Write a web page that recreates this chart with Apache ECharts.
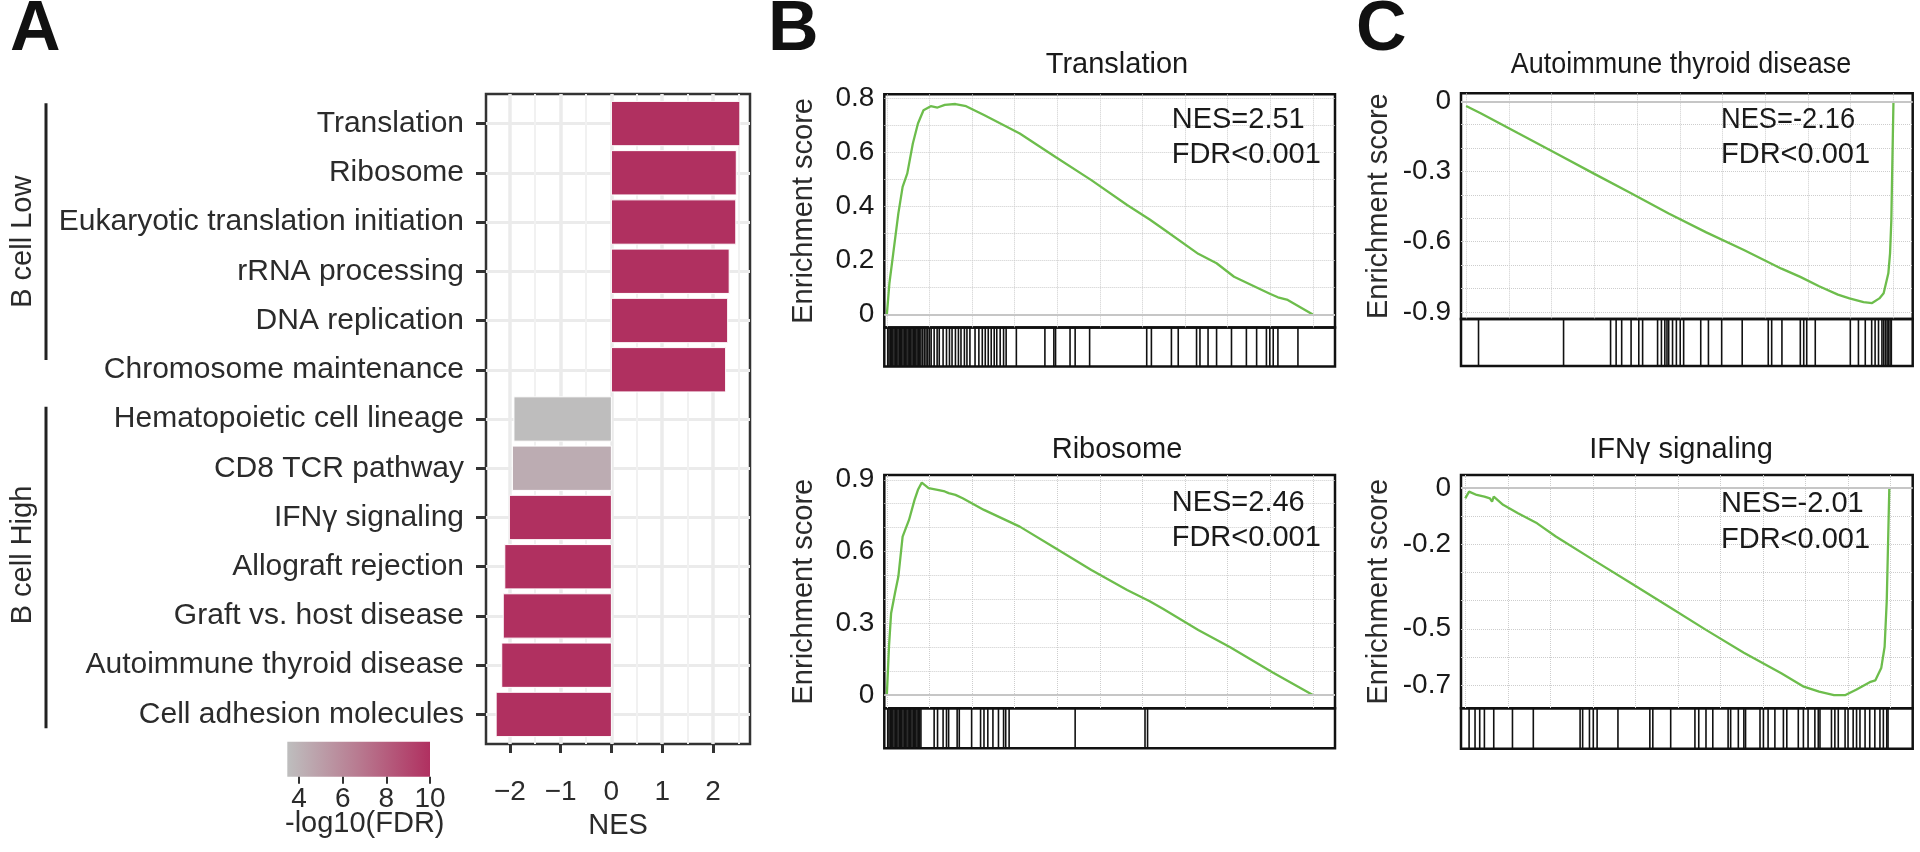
<!DOCTYPE html>
<html>
<head>
<meta charset="utf-8">
<script src="https://cdn.jsdelivr.net/npm/echarts@6.0.0/dist/echarts.min.js"></script>
<style>html,body{margin:0;padding:0;background:#fff}#c{width:1920px;height:852px}</style>
</head>
<body>
<div id="c"></div>
<script>
// ================= DATA =================
// Panel A
const pathways = ['Translation','Ribosome','Eukaryotic translation initiation','rRNA processing','DNA replication','Chromosome maintenance','Hematopoietic cell lineage','CD8 TCR pathway','IFNγ signaling','Allograft rejection','Graft vs. host disease','Autoimmune thyroid disease','Cell adhesion molecules'];
const nes = [2.53, 2.46, 2.45, 2.32, 2.29, 2.25, -1.92, -1.95, -2.01, -2.10, -2.13, -2.16, -2.27];
const negLog10FDR = [10, 10, 10, 10, 10, 10, 3.5, 4.3, 10, 10, 10, 10, 10];
const nesTicks = [-2, -1, 0, 1, 2];
const nesMinorTicks = [-1.5, -0.5, 0.5, 1.5, 2.5];
const fdrTicks = [4, 6, 8, 10];
const fdrRange = [3.46, 10];
const groupNames = ['B cell Low', 'B cell High'];

// Panels B & C (x = normalized position in ranked gene list)
const gseaTitles = ['Translation', 'Ribosome', 'Autoimmune thyroid disease', 'IFNγ signaling'];
const nesLabels = ['NES=2.51', 'NES=2.46', 'NES=-2.16', 'NES=-2.01'];
const fdrLabels = ['FDR<0.001', 'FDR<0.001', 'FDR<0.001', 'FDR<0.001'];
const rankGrid = [0, 0.1, 0.2, 0.3, 0.4, 0.5, 0.6, 0.7, 0.8, 0.9, 1.0];

const esTranslation = [[0,0],[0.006,0.116],[0.015,0.227],[0.027,0.375],[0.037,0.473],[0.048,0.523],[0.061,0.634],[0.073,0.708],[0.086,0.757],[0.103,0.772],[0.119,0.767],[0.136,0.777],[0.161,0.780],[0.186,0.772],[0.228,0.739],[0.312,0.671],[0.396,0.584],[0.48,0.498],[0.564,0.406],[0.617,0.352],[0.648,0.318],[0.731,0.225],[0.774,0.19],[0.815,0.14],[0.899,0.077],[0.918,0.064],[0.941,0.054],[1,0]];
const esRibosome = [[0,0],[0.005,0.202],[0.01,0.342],[0.019,0.425],[0.027,0.495],[0.037,0.662],[0.052,0.732],[0.065,0.816],[0.073,0.858],[0.082,0.888],[0.098,0.865],[0.119,0.858],[0.136,0.851],[0.145,0.844],[0.161,0.837],[0.178,0.823],[0.228,0.774],[0.312,0.704],[0.396,0.614],[0.48,0.523],[0.564,0.439],[0.617,0.392],[0.648,0.36],[0.731,0.272],[0.805,0.2],[0.907,0.093],[1,0]];
const esAutoimmune = [[0,-0.02],[0.034,-0.051],[0.078,-0.094],[0.122,-0.137],[0.21,-0.222],[0.298,-0.308],[0.386,-0.393],[0.474,-0.479],[0.562,-0.56],[0.65,-0.635],[0.738,-0.715],[0.782,-0.75],[0.826,-0.79],[0.87,-0.826],[0.897,-0.842],[0.93,-0.858],[0.95,-0.862],[0.967,-0.842],[0.977,-0.82],[0.988,-0.735],[0.992,-0.65],[0.995,-0.507],[0.997,-0.3],[1,0]];
const esIFNg = [[0,-0.036],[0.009,-0.012],[0.027,-0.024],[0.045,-0.03],[0.058,-0.036],[0.063,-0.048],[0.067,-0.03],[0.089,-0.059],[0.124,-0.089],[0.169,-0.125],[0.213,-0.172],[0.301,-0.255],[0.39,-0.338],[0.478,-0.421],[0.566,-0.504],[0.655,-0.585],[0.743,-0.658],[0.796,-0.706],[0.832,-0.724],[0.867,-0.736],[0.894,-0.736],[0.92,-0.716],[0.951,-0.69],[0.964,-0.684],[0.978,-0.64],[0.986,-0.564],[0.991,-0.4],[0.993,-0.267],[0.997,0]];

const hitsTranslation = [0.002,0.005,0.008,0.011,0.014,0.017,0.02,0.023,0.026,0.029,0.032,0.035,0.038,0.041,0.044,0.047,0.05,0.053,0.056,0.059,0.062,0.065,0.068,0.071,0.074,0.077,0.08,0.084,0.088,0.092,0.096,0.1,0.104,0.111,0.118,0.123,0.132,0.14,0.147,0.153,0.161,0.168,0.174,0.182,0.188,0.195,0.207,0.216,0.224,0.231,0.238,0.245,0.252,0.258,0.266,0.274,0.28,0.304,0.371,0.392,0.396,0.43,0.442,0.476,0.61,0.621,0.668,0.684,0.727,0.735,0.754,0.774,0.809,0.844,0.868,0.891,0.899,0.907,0.918,0.965];
const hitsRibosome = [0.002,0.005,0.008,0.011,0.014,0.017,0.02,0.023,0.026,0.029,0.032,0.035,0.038,0.041,0.044,0.047,0.05,0.053,0.056,0.059,0.062,0.065,0.068,0.071,0.074,0.077,0.08,0.111,0.119,0.132,0.14,0.145,0.165,0.17,0.199,0.22,0.228,0.237,0.249,0.262,0.274,0.279,0.287,0.442,0.606,0.612];
const hitsAutoimmune = [0.029,0.228,0.338,0.351,0.364,0.386,0.404,0.413,0.448,0.457,0.465,0.47,0.474,0.483,0.492,0.501,0.509,0.549,0.567,0.598,0.646,0.707,0.715,0.739,0.782,0.79,0.797,0.817,0.899,0.918,0.934,0.949,0.957,0.965,0.973,0.977,0.981,0.985,0.988,0.992,0.995];
const hitsIFNg = [0.009,0.023,0.034,0.045,0.067,0.111,0.16,0.27,0.276,0.292,0.301,0.31,0.359,0.434,0.441,0.483,0.54,0.549,0.566,0.582,0.618,0.624,0.642,0.655,0.659,0.693,0.701,0.712,0.728,0.748,0.756,0.783,0.795,0.806,0.822,0.83,0.834,0.861,0.869,0.877,0.893,0.9,0.912,0.92,0.928,0.94,0.951,0.963,0.975,0.983,0.991,0.994];

const esYGridTranslation = [0,0.1,0.2,0.3,0.4,0.5,0.6,0.7,0.8];
const esYLabelsTranslation = [0,0.2,0.4,0.6,0.8];
const esYGridRibosome = [0,0.1,0.2,0.3,0.4,0.5,0.6,0.7,0.8,0.9];
const esYLabelsRibosome = [0,0.3,0.6,0.9];
const esYGridAutoimmune = [0,-0.1,-0.2,-0.3,-0.4,-0.5,-0.6,-0.7,-0.8,-0.9];
const esYLabelsAutoimmune = [0,-0.3,-0.6,-0.9];
const esYGridIFNg = [0,-0.1,-0.2,-0.3,-0.4,-0.5,-0.6,-0.7];
const esYLabelsIFNg = [0,-0.2,-0.5,-0.7];

// ================= LAYOUT =================
const FONT = '"Liberation Sans", Arial, Helvetica, sans-serif';
const panelA = {left: 486, right: 750, top: 94, bottom: 744, xMin: -2.47, xMax: 2.73, yMin: 0.4, yMax: 13.6};
const colorbar = {left: 287.3, right: 430, top: 741.7, bottom: 776.7};
const boxes = [
  {l: 884.3, r: 1335, t: 94.3, sep: 327.5, b: 366.5, xMin: -0.006, xMax: 1.052, yMin: -0.048, yMax: 0.816, nameGap: 66, titleX: 1117, titleY: 65, titleScale: 1, nesX: 1171.7, nesY: 120, fdrY: 155, nesScale: 1},
  {l: 884.3, r: 1335, t: 475, sep: 708.3, b: 748.3, xMin: -0.006, xMax: 1.052, yMin: -0.056, yMax: 0.92, nameGap: 66, titleX: 1117, titleY: 450, titleScale: 1, nesX: 1171.7, nesY: 502.5, fdrY: 537.5, nesScale: 1},
  {l: 1461, r: 1912.7, t: 93.3, sep: 319, b: 366, xMin: -0.012, xMax: 1.045, yMin: -0.93, yMax: 0.034, nameGap: 68, titleX: 1681, titleY: 65, titleScale: 0.93, nesX: 1721, nesY: 120, fdrY: 154.5, nesScale: 0.94},
  {l: 1461, r: 1912.7, t: 475, sep: 708.3, b: 748.8, xMin: -0.01, xMax: 1.052, yMin: -0.783, yMax: 0.047, nameGap: 68, titleX: 1681, titleY: 450, titleScale: 1, nesX: 1721, nesY: 504, fdrY: 539.5, nesScale: 1}
];
const gseaSets = [
  {es: esTranslation, hits: hitsTranslation, yGrid: esYGridTranslation, yLabels: esYLabelsTranslation},
  {es: esRibosome, hits: hitsRibosome, yGrid: esYGridRibosome, yLabels: esYLabelsRibosome},
  {es: esAutoimmune, hits: hitsAutoimmune, yGrid: esYGridAutoimmune, yLabels: esYLabelsAutoimmune},
  {es: esIFNg, hits: hitsIFNg, yGrid: esYGridIFNg, yLabels: esYLabelsIFNg}
];

// ================= BUILD =================
const chart = echarts.init(document.getElementById('c'), null, {renderer: 'canvas', width: 1920, height: 852});
const grids = [], xAxes = [], yAxes = [], series = [], graphics = [];
const catPos = pathways.map((_, i) => i + 1);
const textCol = '#2b2b2b';

// --- Panel A grid ---
grids.push({left: panelA.left, top: panelA.top, width: panelA.right - panelA.left, height: panelA.bottom - panelA.top,
  show: true, borderColor: '#333', borderWidth: 2.5, backgroundColor: '#fff', outerBoundsMode: 'none', containLabel: false});
xAxes.push({gridIndex: 0, type: 'value', min: panelA.xMin, max: panelA.xMax, position: 'bottom',
  axisLine: {show: false, onZero: false},
  axisTick: {show: true, customValues: nesTicks, length: 9, lineStyle: {color: '#333', width: 3}},
  axisLabel: {customValues: nesTicks, formatter: v => (v < 0 ? '\u2212' + Math.abs(v) : String(v)), fontSize: 28, fontFamily: FONT, color: textCol, margin: 34},
  splitLine: {show: true, customValues: nesTicks, lineStyle: {color: '#ebebeb', width: 3.5}},
  name: 'NES', nameLocation: 'middle', nameGap: 67, nameTextStyle: {fontSize: 29, fontFamily: FONT, color: textCol}
});
xAxes.push({gridIndex: 0, type: 'value', min: panelA.xMin, max: panelA.xMax, position: 'top',
  axisLine: {show: false, onZero: false}, axisTick: {show: false, customValues: nesMinorTicks}, axisLabel: {show: false, customValues: nesMinorTicks},
  splitLine: {show: true, customValues: nesMinorTicks, lineStyle: {color: '#f1f1f1', width: 2}}
});
yAxes.push({gridIndex: 0, type: 'value', min: panelA.yMin, max: panelA.yMax, inverse: true, position: 'left',
  axisLine: {show: false, onZero: false},
  axisTick: {show: true, customValues: catPos, length: 10, lineStyle: {color: '#333', width: 3}},
  axisLabel: {customValues: catPos, formatter: v => pathways[Math.round(v) - 1] || '', fontSize: 30, fontFamily: FONT, color: textCol, margin: 22},
  splitLine: {show: true, customValues: catPos, lineStyle: {color: '#ebebeb', width: 3}}
});
series.push({
  type: 'custom', xAxisIndex: 0, yAxisIndex: 0, z: 3,
  data: pathways.map((p, i) => [nes[i], i + 1, negLog10FDR[i]]),
  encode: {x: 0, y: 1},
  renderItem: function (params, api) {
    const v = api.value(0), idx = api.value(1);
    const s = api.coord([0, idx]);
    const e = api.coord([v, idx]);
    const h = api.size([0, 0.9])[1];
    return {type: 'rect', shape: {x: Math.min(s[0], e[0]), y: s[1] - h / 2, width: Math.abs(e[0] - s[0]), height: h},
      style: {fill: api.visual('color'), stroke: '#fff', lineWidth: 1}};
  }
});

// --- Colorbar grid ---
grids.push({left: colorbar.left, top: colorbar.top, width: colorbar.right - colorbar.left, height: colorbar.bottom - colorbar.top,
  show: true, borderWidth: 0, outerBoundsMode: 'none', containLabel: false,
  backgroundColor: new echarts.graphic.LinearGradient(0, 0, 1, 0, [{offset: 0, color: '#bebebe'}, {offset: 0.5, color: '#b87a90'}, {offset: 1, color: '#b03060'}])});
xAxes.push({gridIndex: 1, type: 'value', min: fdrRange[0], max: fdrRange[1], position: 'bottom',
  axisLine: {show: false, onZero: false},
  axisTick: {show: true, customValues: fdrTicks, length: 7, lineStyle: {color: '#333', width: 2}},
  axisLabel: {customValues: fdrTicks, fontSize: 28, fontFamily: FONT, color: textCol, margin: 9},
  splitLine: {show: false}
});
yAxes.push({gridIndex: 1, type: 'value', min: 0, max: 1, show: false});

// --- GSEA panels ---
const esFmt = v => (Math.abs(v) < 1e-9 ? '0' : v.toFixed(1));
gseaSets.forEach((g, k) => {
  const b = boxes[k];
  const gi = grids.length;
  grids.push({left: b.l, top: b.t, width: b.r - b.l, height: b.sep - b.t, show: true, borderColor: '#111', borderWidth: 2.5, outerBoundsMode: 'none', containLabel: false});
  grids.push({left: b.l, top: b.sep, width: b.r - b.l, height: b.b - b.sep, show: true, borderColor: '#111', borderWidth: 2.5, outerBoundsMode: 'none', containLabel: false});
  const xi = xAxes.length, yi = yAxes.length;
  xAxes.push({gridIndex: gi, type: 'value', min: b.xMin, max: b.xMax,
    axisLine: {show: false, onZero: false}, axisTick: {show: false, customValues: rankGrid}, axisLabel: {show: false, customValues: rankGrid},
    splitLine: {show: true, customValues: rankGrid, lineStyle: {type: 'dotted', color: '#cdcdcd', width: 1}}});
  xAxes.push({gridIndex: gi + 1, type: 'value', min: b.xMin, max: b.xMax, show: false});
  yAxes.push({gridIndex: gi, type: 'value', min: b.yMin, max: b.yMax, position: 'left',
    axisLine: {show: false, onZero: false}, axisTick: {show: false, customValues: g.yGrid},
    axisLabel: {customValues: g.yLabels, formatter: esFmt, fontSize: 28, fontFamily: FONT, color: '#1a1a1a', margin: 10},
    splitLine: {show: true, customValues: g.yGrid, lineStyle: {type: 'dotted', color: '#cdcdcd', width: 1}},
    name: 'Enrichment score', nameLocation: 'middle', nameRotate: 90, nameGap: b.nameGap,
    nameTextStyle: {fontSize: 29, fontFamily: FONT, color: '#2b2b2b'}});
  yAxes.push({gridIndex: gi + 1, type: 'value', min: 0, max: 1, show: false});
  series.push({type: 'line', xAxisIndex: xi, yAxisIndex: yi, data: g.es, showSymbol: false, symbol: 'none', z: 4,
    lineStyle: {color: '#6dbd4c', width: 2.3},
    markLine: {silent: true, symbol: 'none', label: {show: false}, animation: false,
      lineStyle: {color: '#c6c6c6', width: 2, type: 'solid'}, data: [{yAxis: 0}]}});
  series.push({type: 'custom', xAxisIndex: xi + 1, yAxisIndex: yi + 1, z: 3,
    data: g.hits.map(h => [h, 0.5]), encode: {x: 0, y: 1},
    renderItem: function (params, api) {
      const x = api.value(0);
      const t = api.coord([x, 1]);
      const d = api.coord([x, 0]);
      return {type: 'line', shape: {x1: t[0], y1: t[1], x2: d[0], y2: d[1]}, style: {stroke: '#111', lineWidth: 1.6}};
    }});
});

// --- Annotations ---
function txt(x, y, text, size, opts) {
  opts = opts || {};
  const align = opts.align || 'left';
  graphics.push({type: 'text', x: x, y: y, rotation: opts.rotation || 0, scaleX: opts.scaleX || 1, silent: true, z: 10,
    style: {text: text, fill: opts.color || '#1a1a1a', font: (opts.bold ? 'bold ' : '') + size + 'px ' + FONT,
      align: align, verticalAlign: 'middle', textAlign: align, textVerticalAlign: 'middle'}});
}
function vline(x, y1, y2) {
  graphics.push({type: 'line', silent: true, z: 10, shape: {x1: x, y1: y1, x2: x, y2: y2}, style: {stroke: '#222', lineWidth: 3}});
}
txt(10, 31, 'A', 70, {bold: true, color: '#111'});
txt(768, 31, 'B', 70, {bold: true, color: '#111'});
txt(1356, 31, 'C', 70, {bold: true, color: '#111'});
vline(46, 103.3, 360);
vline(46, 406.7, 728.3);
txt(23.3, 241.7, groupNames[0], 29, {align: 'center', rotation: Math.PI / 2, color: textCol});
txt(23.3, 555, groupNames[1], 29, {align: 'center', rotation: Math.PI / 2, color: textCol});
txt(285, 824, '-log10(FDR)', 29, {color: textCol});
boxes.forEach((b, k) => {
  txt(b.titleX, b.titleY, gseaTitles[k], 29, {align: 'center', color: '#1a1a1a', scaleX: b.titleScale});
  txt(b.nesX, b.nesY, nesLabels[k], 29, {color: '#1a1a1a', scaleX: b.nesScale});
  txt(b.nesX, b.fdrY, fdrLabels[k], 29, {color: '#1a1a1a'});
});

chart.setOption({
  animation: false,
  backgroundColor: '#fff',
  textStyle: {fontFamily: FONT},
  grid: grids,
  xAxis: xAxes,
  yAxis: yAxes,
  visualMap: [{type: 'continuous', show: false, min: fdrRange[0], max: fdrRange[1], dimension: 2, seriesIndex: 0,
    inRange: {color: ['#bebebe', '#b03060']}}],
  series: series,
  graphic: graphics
});
</script>
</body>
</html>
